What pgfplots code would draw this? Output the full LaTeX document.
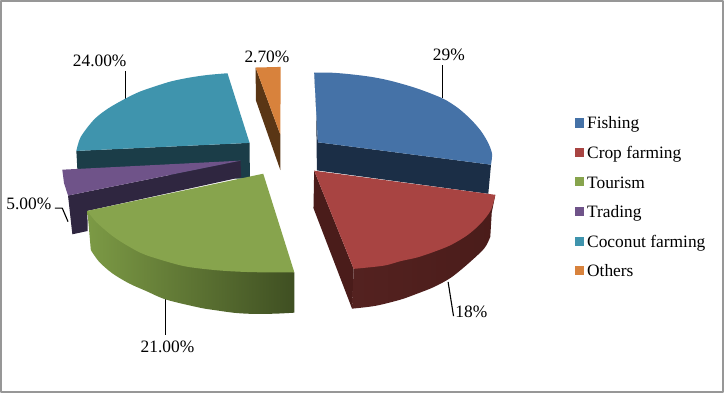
\documentclass[border=0pt]{standalone}
\usepackage{pgfplots}
\pgfplotsset{compat=1.18}
\usepackage{fontspec}
\setmainfont{Liberation Serif}
\definecolor{cBlue}{HTML}{4572A7}\definecolor{dBlue}{HTML}{1B2E46}
\definecolor{cRed}{HTML}{A84442}\definecolor{dRed}{HTML}{4A1C1A}\definecolor{dRedB}{HTML}{542220}
\definecolor{cGreen}{HTML}{87A44D}\definecolor{dGreenA}{HTML}{7C9A45}\definecolor{dGreenB}{HTML}{3F4F22}
\definecolor{cPurple}{HTML}{6F5389}\definecolor{dPurple}{HTML}{2F2640}
\definecolor{cTeal}{HTML}{3F94AD}\definecolor{dTeal}{HTML}{1B3D48}
\definecolor{cOrange}{HTML}{D8823C}\definecolor{dOrange}{HTML}{5A3615}
\definecolor{frameC}{HTML}{979797}
\tikzset{lab/.style={font=\fontsize{17.3}{19}\selectfont, inner sep=0pt}}
\begin{document}
\begin{tikzpicture}
\begin{axis}[
  scale only axis, width=724pt, height=394pt,
  xmin=0, xmax=724, ymin=0, ymax=394, y dir=reverse,
  axis lines=none, clip=false,
  every axis plot/.append style={no markers, line join=round},
]
% frame
\addplot[frameC, line width=1.8pt] coordinates {(2.2,2)(721,2)(721,391.5)(2.2,391.5)} --cycle;
% leaders
\addplot[black, line width=1.1pt] coordinates {(441.7,66)(441.7,99)};
\addplot[black, line width=1.1pt] coordinates {(447.3,281.7)(452.7,315.7)};
\addplot[black, line width=1.1pt] coordinates {(166.3,299)(166.3,335)};
\addplot[black, line width=1.1pt] coordinates {(126,71.7)(126,99.3)};
\addplot[black, line width=1.1pt] coordinates {(56,208.3)(63.3,208.3)(69,221.7)};
% orange
\addplot[fill=dOrange, draw=none] coordinates {(255.7,68.3)(280.3,135)(280.3,170.3)(256,101)} --cycle;
\addplot[fill=cOrange, draw=none] coordinates {(255.7,68.3)(280.7,67.7)(280.3,135)} --cycle;
% teal
\addplot[fill=dTeal, draw=none] coordinates {(77.3,151.3)(249.7,143.3)(250,177.5)(241,179)(78.3,170)} --cycle;
\addplot[fill=cTeal, draw=none, smooth] coordinates {(77.3,151.3)(81.7,137.3)(95,120)(109,109)(126,99.3)(140,92.5)(156.7,86.7)(172,82)(190,78.3)(208,75.7)(227.7,74)} -- (axis cs:249.7,143.3) -- cycle;
% purple
\addplot[fill=dPurple, draw=none] coordinates {(69,195.7)(240.7,161)(241.3,177.5)(88.3,211)(88.5,231)(73.3,234.3)} --cycle;
\addplot[fill=cPurple, draw=none] coordinates {(63.3,170)(240.7,161)(69,195.7)(65,183.3)} --cycle;
% green
\addplot[left color=dGreenA, right color=dGreenB, draw=none, smooth] coordinates {(91.7,250)(100,261.7)(113.3,273.3)(130,283.3)(146.7,290.7)(166.7,299.3)(200,307.3)(216.7,310)(235,312.5)(253,313.5)(275,313.3)(294.3,312.3)} -- (axis cs:294.3,272.3) -- (axis cs:88.3,211) -- cycle;
\addplot[fill=cGreen, draw=none, smooth] coordinates {(88.3,211)(96.7,221.7)(113.3,236)(130,246.7)(146.7,255)(180,265)(200,268.3)(225,270.7)(253.3,272)(294.3,272.3)} -- (axis cs:263.3,174) -- cycle;
% blue
\addplot[fill=dBlue, draw=none] coordinates {(314,73.3)(317.7,142.7)(490,165)(487.3,194)(316.7,170.7)(316,110)} --cycle;
\addplot[fill=cBlue, draw=none, smooth] coordinates {(314,73.3)(332,73.5)(350,75)(370,77.5)(390,81.5)(416,89)(441.7,99)(457,108.5)(470,120)(480,131.5)(487,143)(491,154)(490,165)} -- (axis cs:317.7,142.7) -- cycle;
% red
\addplot[fill=dRed, draw=none] coordinates {(314,171)(313.3,208.3)(351.7,308.3)(353.3,268.7)} --cycle;
\addplot[left color=dRedB, right color=dRed, draw=none, smooth] coordinates {(351.7,308.3)(375,305.5)(400,299.3)(416.7,293.3)(433.3,286.7)(450,277.5)(466.7,264)(483.3,248.3)(489.3,236.7)} -- (axis cs:490.7,213) -- (axis cs:494.3,195) -- (axis cs:353.3,268.7) -- cycle;
\addplot[fill=cRed, draw=none, smooth] coordinates {(353.3,268.7)(383.3,265.5)(400,261)(416.7,257.3)(433.3,251.7)(450,245)(466.7,235)(480,223.3)(490,210)(494.3,195)} -- (axis cs:314,171) -- cycle;
% legend swatches
\addplot[fill=cBlue, draw=none] coordinates {(574,119)(583,119)(583,128)(574,128)} --cycle;
\addplot[fill=cRed, draw=none] coordinates {(574,148.5)(583,148.5)(583,157.5)(574,157.5)} --cycle;
\addplot[fill=cGreen, draw=none] coordinates {(574,177.5)(583,177.5)(583,186.5)(574,186.5)} --cycle;
\addplot[fill=cPurple, draw=none] coordinates {(574,207)(583,207)(583,216)(574,216)} --cycle;
\addplot[fill=cTeal, draw=none] coordinates {(574,236.5)(583,236.5)(583,245.5)(574,245.5)} --cycle;
\addplot[fill=cOrange, draw=none] coordinates {(574,265.5)(583,265.5)(583,274.5)(574,274.5)} --cycle;
% labels
\node[lab, anchor=center] at (axis cs:448,56) {29\%};
\node[lab, anchor=center] at (axis cs:470.5,311) {18\%};
\node[lab, anchor=center] at (axis cs:168,346.5) {21.00\%};
\node[lab, anchor=center] at (axis cs:100.5,62) {24.00\%};
\node[lab, anchor=center] at (axis cs:30,204) {5.00\%};
\node[lab, anchor=center] at (axis cs:267,58) {2.70\%};
\node[lab, anchor=mid west] at (axis cs:585.5,127) {Fishing};
\node[lab, anchor=mid west] at (axis cs:585.5,157) {Crop farming};
\node[lab, anchor=mid west] at (axis cs:585.5,186) {Tourism};
\node[lab, anchor=mid west] at (axis cs:585.5,215) {Trading};
\node[lab, anchor=mid west] at (axis cs:585.5,245) {Coconut farming};
\node[lab, anchor=mid west] at (axis cs:585.5,274) {Others};
\end{axis}
\end{tikzpicture}
\end{document}
